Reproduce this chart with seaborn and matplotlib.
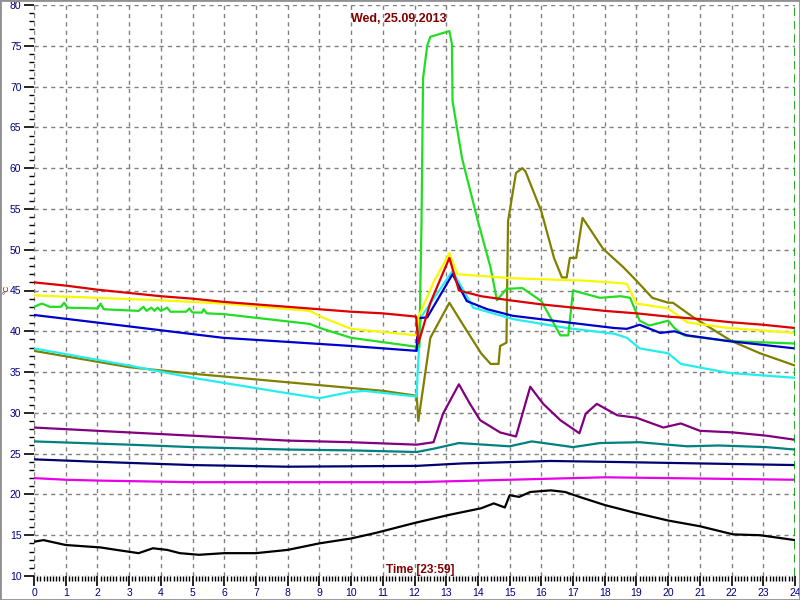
import pandas as pd
import matplotlib
matplotlib.use("Agg")
import matplotlib.pyplot as plt
import seaborn as sns
from matplotlib.ticker import MultipleLocator
from matplotlib.patches import Rectangle

# temperature logs, hour of day -> degC
red_h = [0, 1, 2, 3, 4, 5, 6, 7, 8, 9, 10, 11, 12.05, 12.12, 12.5, 13.1, 13.4, 14.1, 15, 16, 17, 18, 19, 20, 21, 22, 23, 24]
red_t = [46.0, 45.6, 45.1, 44.7, 44.3, 44.0, 43.6, 43.3, 43.0, 42.7, 42.4, 42.2, 41.8, 38.5, 43.5, 49.0, 45.0, 44.3, 43.8, 43.3, 42.9, 42.5, 42.2, 41.8, 41.5, 41.1, 40.8, 40.4]

yellow_h = [0, 2, 4, 6, 8.7, 9.1, 10, 12.07, 12.12, 12.6, 13.1, 13.35, 15.1, 17.4, 18.5, 18.7, 19.0, 20.0, 20.6, 21.9, 24]
yellow_t = [44.4, 44.1, 43.8, 43.4, 42.5, 41.7, 40.3, 39.5, 41.7, 46.0, 49.6, 47.0, 46.5, 46.2, 45.9, 45.8, 43.4, 42.8, 41.1, 40.4, 39.8]

green_h = [0, 0.25, 0.5, 0.85, 0.95, 1.05, 2.0, 2.1, 2.2, 3.3, 3.45, 3.55, 3.7, 3.8, 3.9, 4.0, 4.2, 4.3,
           4.8, 4.9, 5.0, 5.3, 5.35, 5.45, 6, 8.7, 9.1, 10, 12.07, 12.15, 12.22, 12.27, 12.4, 12.5, 13.1,
           13.18, 13.2, 13.5, 14, 14.4, 14.6, 14.9, 15.4, 16, 16.6, 16.85, 17.0, 17.85, 18.5, 18.8, 19.1,
           19.4, 20, 20.2, 20.5, 21.9, 24]
green_t = [43.0, 43.4, 43.0, 43.0, 43.5, 42.9, 42.8, 43.4, 42.7, 42.5, 43.0, 42.5, 42.9, 42.5, 42.9, 42.5, 42.9, 42.4,
           42.4, 42.8, 42.3, 42.3, 42.7, 42.2, 42.1, 40.9, 40.3, 39.2, 38.1, 38.1, 53.0, 71.0, 75.0, 76.1, 76.8,
           75.2, 68.2, 61.2, 53.5, 47.8, 43.8, 45.2, 45.3, 43.7, 39.5, 39.5, 45.0, 44.1, 44.3, 44.1, 41.3,
           40.7, 41.3, 40.4, 39.5, 38.8, 38.5]

blue_h = [0, 3, 5.96, 8, 10, 12.07, 12.1, 12.4, 13.2, 13.65, 14.3, 15.1, 16.8, 18.3, 18.7, 19.1, 19.75, 20.2, 20.6, 21.9, 24]
blue_t = [42.0, 40.6, 39.2, 38.7, 38.2, 37.6, 41.6, 41.7, 47.0, 43.7, 42.7, 41.9, 41.1, 40.4, 40.3, 40.8, 39.8, 40.0, 39.5, 38.8, 37.9]

cyan_h = [0, 3, 5, 8, 9, 9.9, 10.4, 12.07, 12.1, 12.2, 13.2, 13.85, 15.1, 16.8, 18.3, 18.7, 19.1, 20.0, 20.4, 21.9, 24]
cyan_t = [37.9, 35.8, 34.3, 32.4, 31.8, 32.5, 32.7, 32.0, 35.0, 41.7, 47.4, 42.9, 41.5, 40.4, 39.7, 39.2, 37.9, 37.3, 36.0, 34.9, 34.3]

olive_h = [0, 3, 5, 11, 12.07, 12.12, 12.5, 13.1, 13.45, 14.1, 14.4, 14.65, 14.7, 14.9, 14.95, 15.2, 15.4, 15.5,
           16.0, 16.4, 16.65, 16.8, 16.9, 17.1, 17.3, 17.95, 18.6, 19.0, 19.5, 20.0, 20.15, 20.8, 22.0, 22.9, 24]
olive_t = [37.6, 35.6, 34.8, 32.7, 32.1, 29.0, 39.2, 43.5, 41.3, 37.3, 36.0, 36.0, 38.2, 38.6, 53.5, 59.4, 60.0, 59.6,
           54.7, 49.0, 46.6, 46.6, 49.0, 49.0, 53.9, 50.1, 47.8, 46.2, 44.1, 43.5, 43.5, 41.7, 38.8, 37.3, 35.8]

purple_h = [0, 3, 5, 8, 10, 12.07, 12.6, 12.9, 13.4, 13.75, 14.07, 14.7, 15.2, 15.65, 16.06, 16.6, 17.2, 17.4,
            17.75, 18.4, 19.0, 19.85, 20.4, 21.0, 22.05, 23.1, 24]
purple_t = [28.2, 27.6, 27.2, 26.6, 26.4, 26.1, 26.4, 29.9, 33.5, 31.1, 29.1, 27.6, 27.1, 33.2, 31.1, 29.1, 27.5, 29.9,
            31.1, 29.7, 29.4, 28.2, 28.7, 27.8, 27.6, 27.2, 26.7]

teal_h = [0, 3, 5, 8, 10, 12.07, 12.6, 13.4, 15.0, 15.7, 17.0, 17.85, 19.1, 20.6, 21.6, 23.1, 24]
teal_t = [26.5, 26.1, 25.8, 25.5, 25.4, 25.2, 25.6, 26.3, 25.9, 26.5, 25.8, 26.3, 26.4, 25.9, 26.0, 25.8, 25.5]

navy_h = [0, 2, 5, 8, 12.07, 13.5, 16.3, 18, 21, 24]
navy_t = [24.3, 24.0, 23.6, 23.4, 23.5, 23.8, 24.1, 24.0, 23.8, 23.6]

magenta_h = [0, 1, 2, 5, 8, 12, 14, 16, 18, 20, 22, 24]
magenta_t = [22.0, 21.8, 21.7, 21.5, 21.5, 21.5, 21.7, 21.9, 22.1, 22.0, 21.9, 21.8]

black_h = [0, 0.3, 1, 2.1, 2.6, 3.3, 3.75, 4.2, 4.6, 5.2, 6, 7, 8, 9, 10, 10.8, 12, 13.1, 14.1, 14.5, 14.85, 15.0,
           15.3, 15.65, 16.3, 16.75, 17.2, 18.0, 18.9, 20, 21, 22.05, 22.9, 24]
black_t = [14.2, 14.4, 13.8, 13.5, 13.2, 12.8, 13.4, 13.2, 12.8, 12.6, 12.8, 12.8, 13.2, 14.0, 14.6, 15.3, 16.5, 17.5,
           18.3, 18.9, 18.4, 19.9, 19.7, 20.3, 20.5, 20.3, 19.7, 18.7, 17.8, 16.8, 16.1, 15.1, 15.0, 14.4]

series = [
    ("black", black_h, black_t, "#000000"),
    ("magenta", magenta_h, magenta_t, "#e800e8"),
    ("navy", navy_h, navy_t, "#000070"),
    ("teal", teal_h, teal_t, "#008080"),
    ("purple", purple_h, purple_t, "#800080"),
    ("olive", olive_h, olive_t, "#808000"),
    ("cyan", cyan_h, cyan_t, "#22eeee"),
    ("green", green_h, green_t, "#22dd22"),
    ("blue", blue_h, blue_t, "#0000cc"),
    ("yellow", yellow_h, yellow_t, "#f8f800"),
    ("red", red_h, red_t, "#dd0000"),
]

frames = [pd.DataFrame({"hour": h, "temp": t, "sensor": name}) for name, h, t, _ in series]
df = pd.concat(frames, ignore_index=True)
palette = {name: c for name, _, _, c in series}

sns.set_style("white")
plt.rcParams["font.family"] = ["Liberation Sans", "DejaVu Sans"]

fig = plt.figure(figsize=(8, 6), dpi=100)
ax = fig.add_axes([34 / 800, 24 / 600, 761 / 800, 571 / 600])

sns.lineplot(data=df, x="hour", y="temp", hue="sensor", palette=palette,
             estimator=None, sort=False, linewidth=1.6, legend=False, ax=ax)

ax.set_xlim(0, 24)
ax.set_ylim(10, 80)
ax.xaxis.set_major_locator(MultipleLocator(1))
ax.xaxis.set_minor_locator(MultipleLocator(0.1))
ax.yaxis.set_major_locator(MultipleLocator(5))
ax.yaxis.set_minor_locator(MultipleLocator(1))
ax.grid(True, which="major", color="#808080", linestyle=(0, (3, 3)), linewidth=1)
ax.tick_params(axis="both", which="both", bottom=True, left=True, top=False, right=False)
ax.tick_params(axis="both", which="major", direction="out", length=7, width=1.2,
               colors="#000000", labelcolor="#000080", labelsize=7.5, pad=2)
ax.tick_params(axis="both", which="minor", direction="out", length=3.5, width=1, colors="#000000")
for s in ax.spines.values():
    s.set_visible(False)
ax.set_xlabel("")
ax.set_ylabel("")

# "now" marker at the right edge
ax.axvline(24, color="#00a000", linestyle=(0, (5, 3)), linewidth=1.2)

ax.text(0.48, 0.975, "Wed, 25.09.2013", transform=ax.transAxes, ha="center", va="center",
        color="#800000", fontsize=9, fontweight="bold")
ax.text(0.508, 0.01, "Time [23:59]", transform=ax.transAxes, ha="center", va="center",
        color="#800000", fontsize=8.5, fontweight="bold")
fig.text(7 / 800, 1 - 289 / 600, "°C", rotation=90, ha="center", va="center",
         color="#800000", fontsize=6)

fig.add_artist(Rectangle((0, 0), 1, 1, transform=fig.transFigure, fill=False,
                         edgecolor="#909090", linewidth=2))

plt.savefig("out.png", dpi=100)
